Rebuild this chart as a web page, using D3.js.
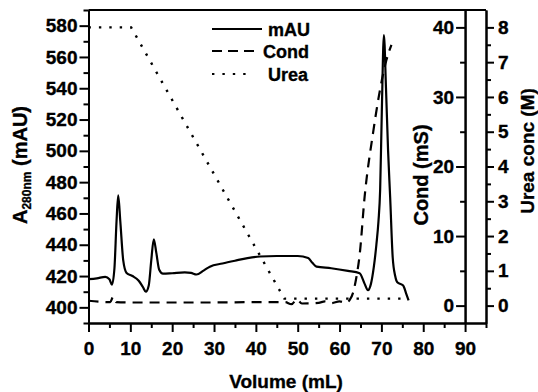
<!DOCTYPE html>
<html>
<head>
<meta charset="utf-8">
<script src="https://cdn.jsdelivr.net/npm/d3@7"></script>
<style>
  body { margin: 0; background: #fff; }
  svg { display: block; font-family: "Liberation Sans", Arial, sans-serif; font-weight: bold; }
  svg text { stroke: #000; stroke-width: 0.35; fill: #000; }
  .axis path, .axis line { stroke: #000; stroke-width: 2; }
  .axis text { font-size: 19px; font-weight: bold; fill: #000; }
</style>
</head>
<body>
<div id="chart"></div>
<script>
// mAU trace [volume, A280]
const mauData = [
  [0,418],[2,418.5],[4,419.5],[5,418],[5.6,414.5],[6.2,425],[6.7,455],[7.1,471.5],[7.6,455],
  [8.3,430],[9.1,422],[10.5,420],[12,417],[13,413],[13.7,410],[14.4,414],[15,430],[15.6,443.5],
  [16.2,435],[16.9,424],[17.8,421.5],[20,421.8],[23,422.3],[24.5,422],[25.8,421],[27.5,423.5],
  [29,426],[32,428],[35,429.8],[38,431.5],[41,432.5],[45,432.8],[50,432.8],[52.5,431.5],
  [53.5,428.5],[54.5,426],[58,425],[62,423.3],[64.8,421.8],[66,415],[66.8,411],[67.5,415],
  [68.2,426],[68.8,440],[69.3,455],[69.7,475],[70.1,525],[70.6,574],[71.1,540],[71.6,500],
  [72.1,470],[72.7,432],[73.3,420],[73.8,416],[74.5,415],[75.2,414],[75.9,409],[76.5,404.5]
];
// conductivity [volume, mS]
const condData = [
  [0,0.7],[5.2,0.5],[5.9,1.3],[6.6,0.5],[10,0.45],[20,0.45],[30,0.45],[40,0.5],[47,0.5],
  [48.5,0.2],[49.8,0.9],[51,0.3],[55,0.4],[56.5,0.6],[58,0.35],[60,0.6],[61.5,0.4],
  [62.4,0.8],[63.2,1.8],[64,4.0],[64.8,7.3],[66,15.7],[68,24.8],[69.6,30.8],[71.2,35.3],[72.4,37.5]
];
// urea concentration [volume, M]
const ureaData = [[0,8],[10.2,8],[46.8,0.2],[76.5,0.2]];

const xTicks = [0,10,20,30,40,50,60,70,80,90];
const xMinor = [5,15,25,35,45,55,65,75,85,95];
const mauTicks = [400,420,440,460,480,500,520,540,560,580];
const mauMinor = [390,410,430,450,470,490,510,530,550,570,590];
const condTicks = [0,10,20,30,40];
const condMinor = [5,15,25,35];
const ureaTicks = [0,1,2,3,4,5,6,7,8];
const ureaMinor = [0.5,1.5,2.5,3.5,4.5,5.5,6.5,7.5];

const W = 538, H = 392;
const svg = d3.select('#chart').append('svg').attr('width', W).attr('height', H);

const x = d3.scaleLinear().domain([0, 95]).range([88.5, 486]);
const yL = d3.scaleLinear().domain([390, 590]).range([323, 10]);
const yC = d3.scaleLinear().domain([-2.5, 42.5]).range([323, 10]);
const yU = d3.scaleLinear().domain([-0.5, 8.5]).range([323, 10]);

// x axis
svg.append('g').attr('class', 'axis').attr('transform', 'translate(0,323)')
  .call(d3.axisBottom(x).tickValues(xTicks).tickSize(9).tickPadding(10).tickSizeOuter(0));
svg.append('g').attr('class', 'axis').attr('transform', 'translate(0,323)')
  .call(d3.axisBottom(x).tickValues(xMinor).tickSize(5).tickFormat('').tickSizeOuter(0));

// left axis
svg.append('g').attr('class', 'axis').attr('transform', `translate(${x(0)},0)`)
  .call(d3.axisLeft(yL).tickValues(mauTicks).tickSize(9).tickPadding(2).tickSizeOuter(0));
svg.append('g').attr('class', 'axis').attr('transform', `translate(${x(0)},0)`)
  .call(d3.axisLeft(yL).tickValues(mauMinor).tickSize(5).tickFormat('').tickSizeOuter(0));

// cond axis (inner right)
svg.append('g').attr('class', 'axis').attr('transform', `translate(${x(90)},0)`)
  .call(d3.axisLeft(yC).tickValues(condTicks).tickSize(9).tickPadding(2).tickSizeOuter(0));
svg.append('g').attr('class', 'axis').attr('transform', `translate(${x(90)},0)`)
  .call(d3.axisLeft(yC).tickValues(condMinor).tickSize(5).tickFormat('').tickSizeOuter(0));

// urea axis (outer right)
svg.append('g').attr('class', 'axis').attr('transform', `translate(${x(95)},0)`)
  .call(d3.axisRight(yU).tickValues(ureaTicks).tickSize(8).tickPadding(4).tickSizeOuter(0));
svg.append('g').attr('class', 'axis').attr('transform', `translate(${x(95)},0)`)
  .call(d3.axisRight(yU).tickValues(ureaMinor).tickSize(5).tickFormat('').tickSizeOuter(0));

// top frame
svg.append('line').attr('x1', x(0)).attr('x2', x(95)).attr('y1', 10).attr('y2', 10)
  .attr('stroke', '#000').attr('stroke-width', 2);

// lines
const mauLine = d3.line().x(d => x(d[0])).y(d => yL(d[1])).curve(d3.curveMonotoneX);
const condLine = d3.line().x(d => x(d[0])).y(d => yC(d[1])).curve(d3.curveMonotoneX);
const ureaLine = d3.line().x(d => x(d[0])).y(d => yU(d[1]));

svg.append('path').datum(condData).attr('d', condLine)
  .attr('fill', 'none').attr('stroke', '#000').attr('stroke-width', 2.2).attr('stroke-dasharray', '10,7');
svg.append('path').datum(ureaData).attr('d', ureaLine)
  .attr('fill', 'none').attr('stroke', '#000').attr('stroke-width', 2.4).attr('stroke-dasharray', '2.4,8');
svg.append('path').datum(mauData).attr('d', mauLine)
  .attr('fill', 'none').attr('stroke', '#000').attr('stroke-width', 2.2);

// legend
const legend = [
  { label: 'mAU', dash: null, y: 29, tx: 268, x2: 262 },
  { label: 'Cond', dash: '10,6', y: 51, tx: 263, x2: 260 },
  { label: 'Urea', dash: '2.4,8', y: 74, tx: 268, x2: 252 }
];
legend.forEach(d => {
  svg.append('line').attr('x1', 212).attr('x2', d.x2)
    .attr('y1', d.y).attr('y2', d.y).attr('stroke', '#000').attr('stroke-width', 2.2)
    .attr('stroke-dasharray', d.dash);
  svg.append('text').attr('x', d.tx).attr('y', d.y + 6.5)
    .attr('font-size', 18).text(d.label);
});

// titles
svg.append('text').attr('x', 286).attr('y', 388).attr('text-anchor', 'middle')
  .attr('font-size', 19).text('Volume (mL)');

const lt = svg.append('text').attr('transform', 'translate(27,165) rotate(-90)')
  .attr('text-anchor', 'middle').attr('font-size', 20);
lt.append('tspan').text('A');
lt.append('tspan').attr('font-size', 12).attr('dy', 4).text('280nm');
lt.append('tspan').attr('dy', -4).text(' (mAU)');

svg.append('text').attr('transform', 'translate(428,175) rotate(-90)')
  .attr('text-anchor', 'middle').attr('font-size', 20).text('Cond (mS)');
svg.append('text').attr('transform', 'translate(534,151) rotate(-90)')
  .attr('text-anchor', 'middle').attr('font-size', 19).text('Urea conc (M)');
</script>
</body>
</html>
